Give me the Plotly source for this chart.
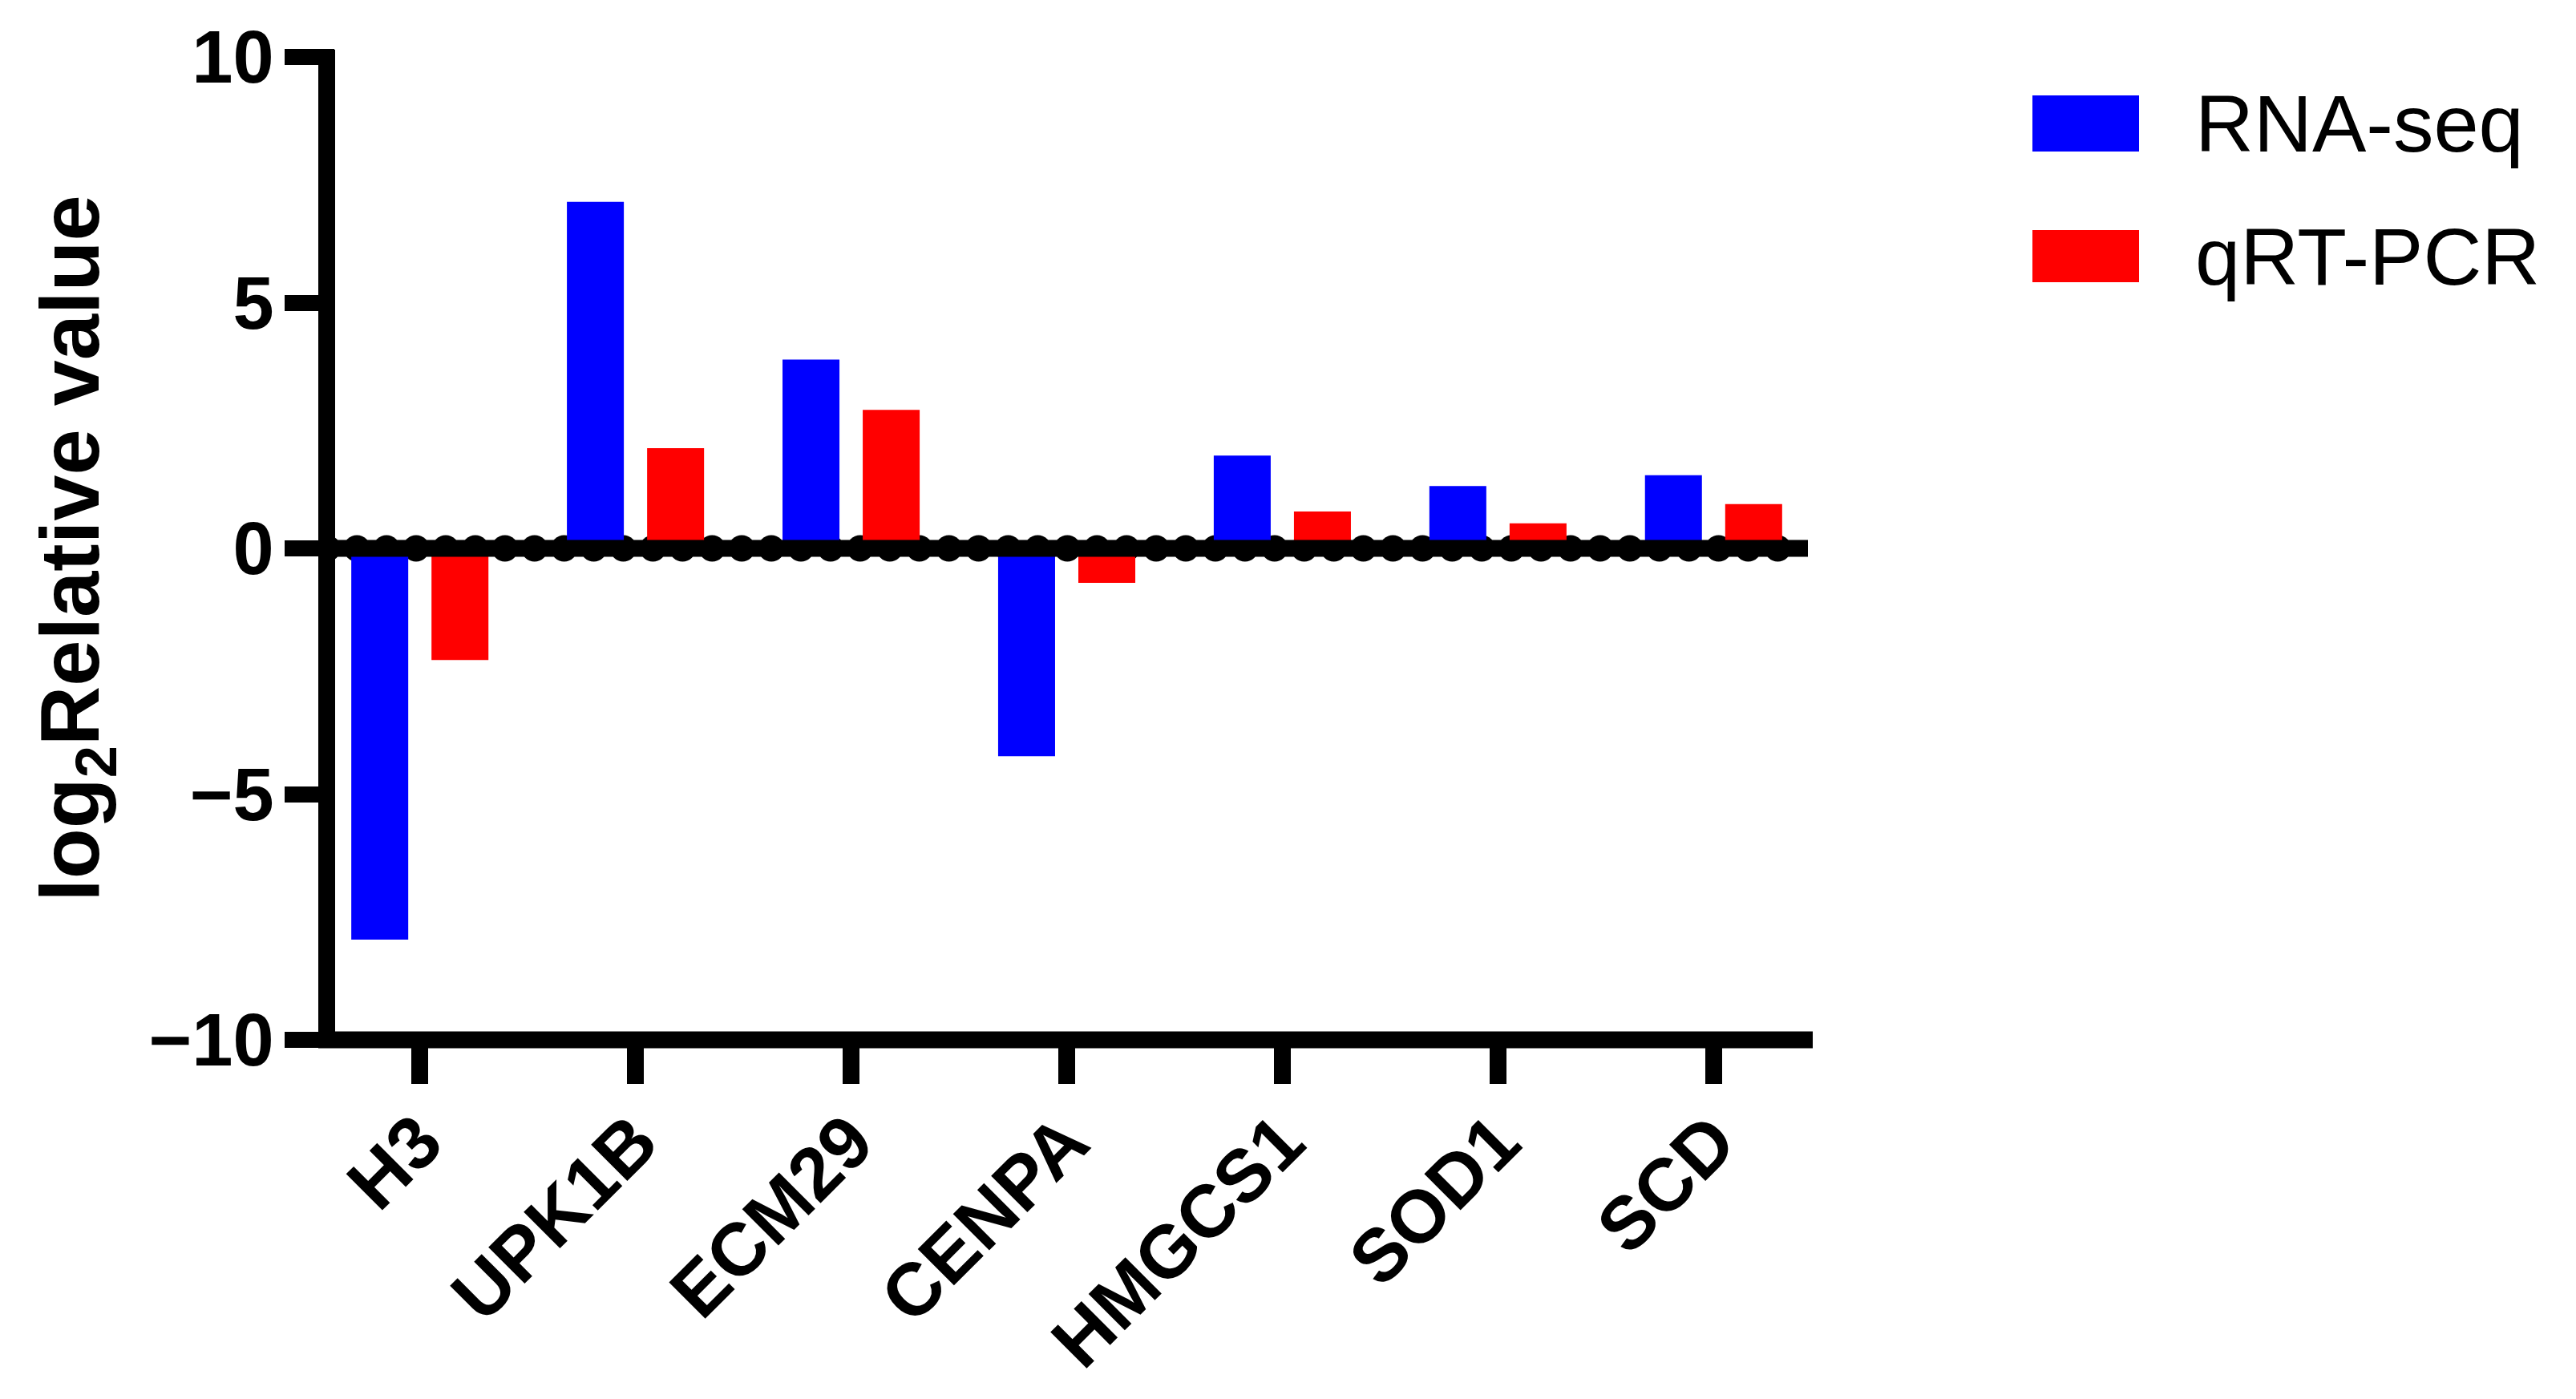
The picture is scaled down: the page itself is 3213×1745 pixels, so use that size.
import numpy as np
import plotly.graph_objects as go

# ---------------- data ----------------
genes = ["H3", "UPK1B", "ECM29", "CENPA", "HMGCS1", "SOD1", "SCD"]
rna_seq = [-7.96, 7.05, 3.84, -4.23, 1.89, 1.27, 1.49]
qrt_pcr = [-2.27, 2.04, 2.82, -0.70, 0.75, 0.51, 0.90]
series_names = ["RNA-seq", "qRT-PCR"]
y_ticks = [-10, -5, 0, 5, 10]

# ---------------- layout geometry ----------------
W, H = 3213, 1745
L, R, T, B = 418, 952, 71, 448
PW, PH = W - L - R, H - T - B
X_RANGE = [-0.393, 6.46]
Y_RANGE = [-10, 10]
BLUE, RED = "#0000FF", "#FF0000"
FONT = "Liberation Sans, Arial, Helvetica, sans-serif"


def px_x(px):
    return (px - L) / PW


def px_y(py):
    return (H - B - py) / PH


fig = go.Figure()

# decorative beaded zero line (row of circles drawn under the bars)
dot_step = 0.13729
dot_x = np.arange(-0.4292, 6.30, dot_step)
fig.add_trace(go.Scatter(
    x=dot_x, y=np.zeros_like(dot_x), mode="markers",
    marker=dict(size=33, color="black", line=dict(width=0)),
    xaxis="x", yaxis="y", showlegend=False, hoverinfo="skip",
))

colors = [BLUE, RED]
for name, vals, col in zip(series_names, [rna_seq, qrt_pcr], colors):
    fig.add_trace(go.Bar(
        x=genes, y=vals, name=name, marker=dict(color=col, line=dict(width=0)),
        xaxis="x2", yaxis="y2", showlegend=False,
    ))

shapes = [
    # zero line (above bars)
    dict(type="line", xref="paper", yref="paper", x0=px_x(418), x1=px_x(2255),
         y0=0.5, y1=0.5, line=dict(color="black", width=21), layer="above"),
    # y axis line
    dict(type="line", xref="paper", yref="paper", x0=px_x(407.5), x1=px_x(407.5),
         y0=px_y(1307), y1=px_y(62), line=dict(color="black", width=21), layer="above"),
    # x axis line
    dict(type="line", xref="paper", yref="paper", x0=px_x(397), x1=px_x(2261),
         y0=px_y(1297), y1=px_y(1297), line=dict(color="black", width=21), layer="above"),
    # legend swatches
    dict(type="rect", xref="paper", yref="paper", x0=px_x(2535), x1=px_x(2668),
         y0=px_y(189), y1=px_y(119), fillcolor=BLUE, line=dict(width=0), layer="above"),
    dict(type="rect", xref="paper", yref="paper", x0=px_x(2535), x1=px_x(2668),
         y0=px_y(352), y1=px_y(287), fillcolor=RED, line=dict(width=0), layer="above"),
]

annotations = [
    dict(text=series_names[0], xref="paper", yref="paper", x=px_x(2736), y=px_y(154),
         xanchor="left", yanchor="middle", showarrow=False,
         font=dict(family=FONT, size=101, color="black")),
    dict(text=series_names[1], xref="paper", yref="paper", x=px_x(2736), y=px_y(320),
         xanchor="left", yanchor="middle", showarrow=False,
         font=dict(family=FONT, size=101, color="black")),
]

fig.update_layout(
    template="none",
    width=W, height=H,
    margin=dict(l=L, r=R, t=T, b=B, pad=0),
    paper_bgcolor="white", plot_bgcolor="rgba(0,0,0,0)",
    barmode="group", bargap=0.256, bargroupgap=0.29,
    showlegend=False,
    shapes=shapes, annotations=annotations,
    xaxis=dict(range=X_RANGE, visible=False, showgrid=False, zeroline=False,
               automargin=False),
    yaxis=dict(range=Y_RANGE, tickvals=y_ticks, ticks="outside", ticklen=62,
               tickwidth=20, tickcolor="black", showline=False, showgrid=False,
               zeroline=False, automargin=False, ticklabelstandoff=-5,
               tickfont=dict(family=FONT, size=92, color="black", weight="bold"),
               title=dict(text="log<sub>2</sub>Relative value", standoff=27,
                          font=dict(family=FONT, size=103, color="black", weight="bold"))),
    xaxis2=dict(type="category", overlaying="x", anchor="y2", range=X_RANGE,
                ticks="outside", ticklen=54, tickwidth=21, tickcolor="black",
                tickangle=-45, showline=False, showgrid=False, zeroline=False,
                automargin=False, ticklabelstandoff=-20,
                tickfont=dict(family=FONT, size=93, color="black", weight="bold")),
    yaxis2=dict(overlaying="y", anchor="x2", range=Y_RANGE, visible=False,
                showgrid=False, zeroline=False),
)

fig.write_html("out.html", config={"displayModeBar": False},
               post_script="document.body.style.margin='0px';")
